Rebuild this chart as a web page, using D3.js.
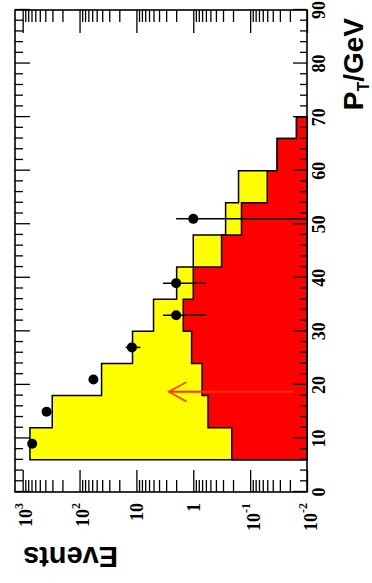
<!DOCTYPE html>
<html><head><meta charset="utf-8">
<script src="https://cdn.jsdelivr.net/npm/d3@7"></script>
<style>html,body{margin:0;padding:0;background:#fff;} svg{display:block;}</style>
</head><body>
<script>
// ---- data ----
const binEdges = [6,12,18,24,30,36,42,48,54,60,66,70];
const totalBkg = [745,302,41,11.7,5.0,1.96,1.0,0.27,0.16,0.0335,0.0153];
const redBkg   = [0.21,0.55,0.70,1.07,1.5,1.0,0.318,0.142,0.050,0.0335,0.0153];
const dataPt   = [9,15,21,27,33,39,51];
const dataVal  = [680,380,57,12,2,2,1];
const dataErr  = [26,19.5,7.5,3.46,1.41,1.41,1];
const ptTicks  = [0,10,20,30,40,50,60,70,80,90];
const evTicks  = [1000,100,10,1,0.1,0.01];
const evLabelBase = ["10","10","10","1","10","10"];
const evLabelExp  = ["3","2","","","-1","-2"];
const cutPt = [18.7];
const cutRange = [0.0175, 2.7];

const W = 372, H = 583;
const svg = d3.select("body").append("svg").attr("width", W).attr("height", H);
const PW = 482, PH = 292;
const g = svg.append("g").attr("transform", "translate(15,492) rotate(-90)");

const x = d3.scaleLinear().domain([0, 90]).range([0, PW]);
const y = d3.scaleLog().domain([0.01, 1365]).range([PH, 0]);

function stepPath(vals) {
  const p = d3.path();
  p.moveTo(x(binEdges[0]), y(0.01));
  vals.forEach((v, i) => { p.lineTo(x(binEdges[i]), y(v)); p.lineTo(x(binEdges[i + 1]), y(v)); });
  p.lineTo(x(binEdges[binEdges.length - 1]), y(0.01));
  p.closePath();
  return p.toString();
}

g.append("path").attr("d", stepPath(totalBkg)).attr("fill", "#ffff00").attr("stroke", "#000").attr("stroke-width", 1.5);
g.append("path").attr("d", stepPath(redBkg)).attr("fill", "#ff0000").attr("stroke", "#000").attr("stroke-width", 1.5);

// ---- axes ticks ----
const ptMinor = d3.range(0, 91, 2).filter(v => v % 10 !== 0);
const allLog = y.ticks();
const logMinor = allLog.filter(v => Math.abs(Math.log10(v) - Math.round(Math.log10(v))) > 1e-6);

function tickStyle(sel) {
  sel.select(".domain").remove();
  sel.selectAll("line").attr("stroke", "#000").attr("stroke-width", 1.3);
  sel.selectAll("text").remove();
}
// P_T axis (local bottom) and its mirror (local top)
g.append("g").attr("transform", `translate(0,${PH})`).call(d3.axisBottom(x).tickValues(ptTicks).tickSize(-14)).call(tickStyle);
g.append("g").attr("transform", `translate(0,${PH})`).call(d3.axisBottom(x).tickValues(ptMinor).tickSize(-7)).call(tickStyle);
g.append("g").call(d3.axisTop(x).tickValues(ptTicks).tickSize(-15)).call(tickStyle);
g.append("g").call(d3.axisTop(x).tickValues(ptMinor).tickSize(-8)).call(tickStyle);
// Events axis (local left) and mirror (local right)
g.append("g").call(d3.axisLeft(y).tickValues(evTicks).tickSize(-22)).call(tickStyle);
g.append("g").call(d3.axisLeft(y).tickValues(logMinor).tickSize(-12)).call(tickStyle);
g.append("g").attr("transform", `translate(${PW},0)`).call(d3.axisRight(y).tickValues(evTicks).tickSize(-23)).call(tickStyle);
g.append("g").attr("transform", `translate(${PW},0)`).call(d3.axisRight(y).tickValues(logMinor).tickSize(-12)).call(tickStyle);

// frame
g.append("rect").attr("x", 0).attr("y", 0).attr("width", PW).attr("height", PH)
  .attr("fill", "none").attr("stroke", "#000").attr("stroke-width", 1.6);

// ---- tick labels ----
const numFont = "bold 18px 'Liberation Serif', 'Times New Roman', serif";
g.append("g").selectAll("text").data(ptTicks).join("text")
  .attr("x", d => x(d)).attr("y", PH + 18).attr("text-anchor", "middle")
  .style("font", numFont).text(d => d);

const evLab = g.append("g").selectAll("text").data(evTicks).join("text")
  .attr("x", -11).attr("y", (d, i) => y(d) + (evLabelExp[i] ? 9.5 : 7))
  .attr("text-anchor", "end").style("font", numFont);
evLab.each(function (d, i) {
  const t = d3.select(this);
  t.append("tspan").text(evLabelBase[i]);
  if (evLabelExp[i]) t.append("tspan").attr("dy", -9.5).attr("font-size", "12px").text(evLabelExp[i]);
});

// ---- titles ----
const titleFont = "bold 28px 'Liberation Sans', Arial, Helvetica, sans-serif";
const pt = g.append("text").attr("x", 474).attr("y", 348).attr("text-anchor", "end").style("font", titleFont);
pt.append("tspan").text("P");
pt.append("tspan").attr("dy", 6).attr("font-size", "16px").text("T");
pt.append("tspan").attr("dy", -6).text("/GeV");

g.append("text").attr("transform", "translate(-55,8) rotate(-90)").attr("text-anchor", "end")
  .style("font", "bold 29px 'Liberation Sans', Arial, Helvetica, sans-serif").text("Events");

// ---- data points ----
const pts = g.append("g");
pts.selectAll("line").data(dataPt).join("line")
  .attr("x1", d => x(d)).attr("x2", d => x(d))
  .attr("y1", (d, i) => y(Math.max(dataVal[i] - dataErr[i], 0.01)))
  .attr("y2", (d, i) => y(dataVal[i] + dataErr[i]))
  .attr("stroke", "#000").attr("stroke-width", 1.5);
pts.selectAll("circle").data(dataPt).join("circle")
  .attr("cx", d => x(d)).attr("cy", (d, i) => y(dataVal[i])).attr("r", 5).attr("fill", "#000");

// ---- cut arrow ----
const arrowColor = "#ff3300";
const ax = x(cutPt[0]), yTail = y(cutRange[0]), yTip = y(cutRange[1]);
g.append("line").attr("x1", ax).attr("x2", ax).attr("y1", yTail).attr("y2", yTip)
  .attr("stroke", arrowColor).attr("stroke-width", 2);
g.append("polyline").attr("points", `${ax - 9.7},${yTip + 17.7} ${ax},${yTip} ${ax + 9.7},${yTip + 17.7}`)
  .attr("fill", "none").attr("stroke", arrowColor).attr("stroke-width", 1.6);
</script>
</body></html>
